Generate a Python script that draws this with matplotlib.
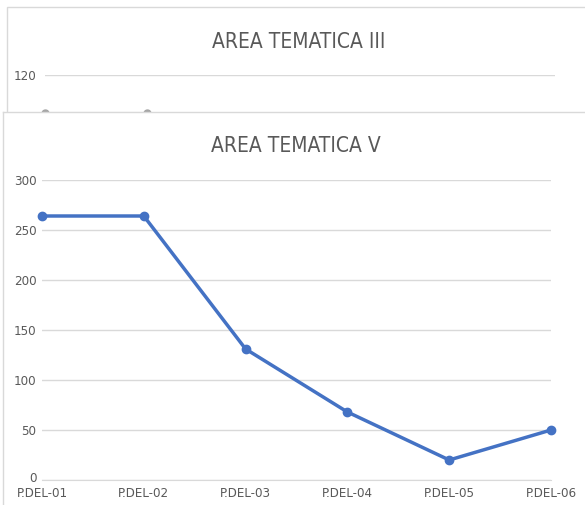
import matplotlib
matplotlib.use("Agg")
import matplotlib.pyplot as plt
import matplotlib.transforms as mtransforms
from matplotlib.patches import Rectangle

categories = ["P.DEL-01", "P.DEL-02", "P.DEL-03", "P.DEL-04", "P.DEL-05", "P.DEL-06"]
values_v = [264, 264, 131, 68, 20, 50]
values_iii_visible = [100, 100]
title_v = "AREA TEMATICA V"
title_iii = "AREA TEMATICA III"

W, H = 585, 505
fig = plt.figure(figsize=(W / 100, H / 100), dpi=100)
fig.patch.set_facecolor("white")

def fx(x):
    return x / W

def fy(y):
    return 1 - y / H

text_col = "#595959"
grid_col = "#d9d9d9"
font = "DejaVu Sans"
stretch = "condensed"

# Background chart frame
fig.patches.append(Rectangle((fx(7), fy(520)), fx(600) - fx(7), fy(7) - fy(520),
                             transform=fig.transFigure, facecolor="white",
                             edgecolor="#d9d9d9", lw=1, zorder=0))
fig.text(fx(299), fy(42), title_iii, ha="center", va="center", color=text_col,
         fontsize=15, family=font, stretch=stretch, zorder=1)

# Background axes (0..120, 20 per 38 px)
top_b, zero_b = 75, 75 + 38 * 6
ax_b = fig.add_axes([fx(45), fy(zero_b), fx(555) - fx(45), (zero_b - top_b) / H])
ax_b.set_zorder(1)
ax_b.patch.set_alpha(0)
ax_b.set_xlim(0, len(categories) - 1)
ax_b.set_ylim(0, 120)
ax_b.set_yticks([120])
ax_b.grid(axis="y", color=grid_col, lw=1)
ax_b.tick_params(length=0, labelsize=9.5, labelcolor=text_col, pad=6)
ax_b.set_xticks([])
for lab in ax_b.get_yticklabels():
    lab.set_family(font); lab.set_stretch(stretch)
for s in ax_b.spines.values():
    s.set_visible(False)
ax_b.plot(range(len(values_iii_visible)), values_iii_visible, color="#a5a5a5",
          lw=2.2, marker="o", ms=5, clip_on=False)

# Foreground panel
ax_p = fig.add_axes([fx(3), fy(520), fx(600) - fx(3), (520 - 112) / H])
ax_p.set_zorder(2)
ax_p.set_xticks([]); ax_p.set_yticks([])
ax_p.set_facecolor("white")
for s in ax_p.spines.values():
    s.set_color("#d9d9d9"); s.set_linewidth(1)

# Foreground chart axes
top_f, zero_f = 180, 480
ax = fig.add_axes([fx(42), fy(zero_f), fx(551) - fx(42), (zero_f - top_f) / H])
ax.set_zorder(3)
ax.patch.set_alpha(0)
x = list(range(len(categories)))
ax.plot(x, values_v, color="#4472C4", lw=2.5, marker="o", ms=6,
        clip_on=False, zorder=3, solid_joinstyle="round")
ax.set_xlim(0, len(categories) - 1)
ax.set_ylim(0, 300)
ax.set_yticks(range(0, 301, 50))
ax.set_xticks(x)
ax.set_xticklabels(categories)
ax.grid(axis="y", color=grid_col, lw=1, zorder=0)
ax.tick_params(axis="both", length=0, labelsize=9.5, labelcolor=text_col)
ax.tick_params(axis="y", pad=4)
ax.tick_params(axis="x", pad=5)
for lab in ax.get_xticklabels() + ax.get_yticklabels():
    lab.set_family(font); lab.set_stretch(stretch)
# lift the "0" label slightly so it does not collide with the first category label
zero_lab = ax.get_yticklabels()[0]
zero_lab.set_transform(zero_lab.get_transform() +
                       mtransforms.ScaledTranslation(0, 3 / 100, fig.dpi_scale_trans))
for s in ["top", "right", "left"]:
    ax.spines[s].set_visible(False)
ax.spines["bottom"].set_color(grid_col)
fig.text(fx(296), fy(146), title_v, ha="center", va="center", color=text_col,
         fontsize=15, family=font, stretch=stretch, zorder=5)

fig.savefig("out.png", dpi=100)
